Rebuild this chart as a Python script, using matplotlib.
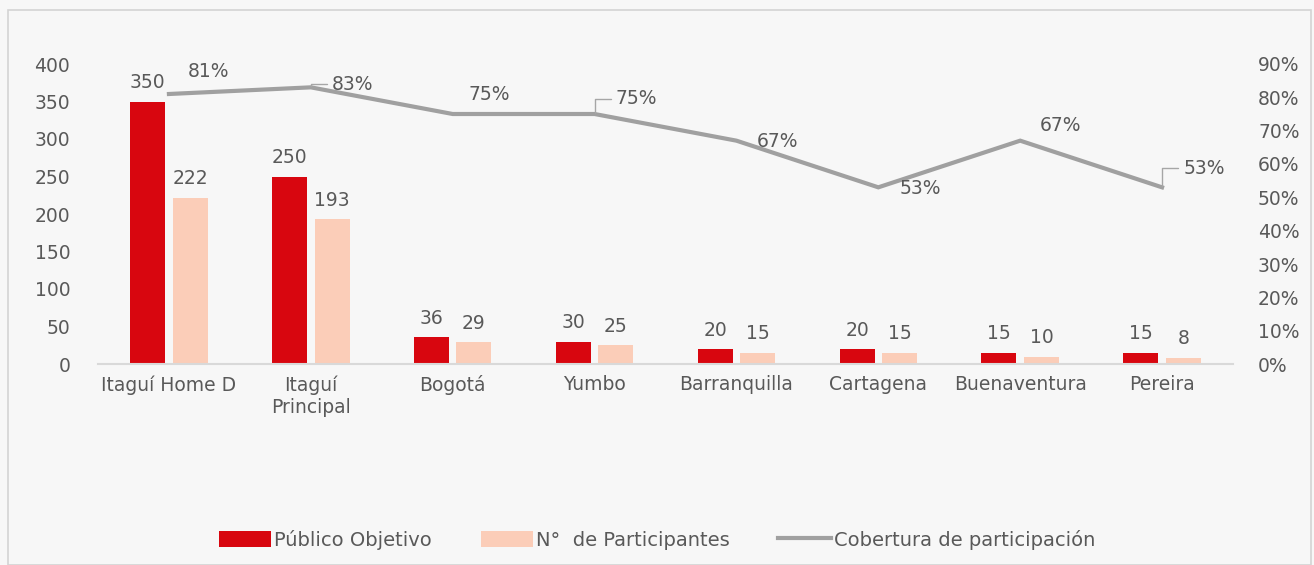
import numpy as np
import matplotlib.pyplot as plt
from matplotlib.patches import Rectangle
from matplotlib.ticker import PercentFormatter

sedes = ['Itaguí Home D', 'Itaguí\nPrincipal', 'Bogotá', 'Yumbo', 'Barranquilla',
         'Cartagena', 'Buenaventura', 'Pereira']
publico = [350, 250, 36, 30, 20, 20, 15, 15]
participantes = [222, 193, 29, 25, 15, 15, 10, 8]
cobertura = [0.81, 0.83, 0.75, 0.75, 0.67, 0.53, 0.67, 0.53]

# label offsets for the percentages (pixels), and whether a leader line is drawn
pct_offsets = [(40, 22), (42, 3), (37, 19), (42, 15), (41, -1), (42, -1), (40, 15), (42, 19)]
pct_leader = [False, True, False, True, False, False, False, True]

red = '#d8060f'
peach = '#fbcdb8'
gray_line = '#a0a0a0'
txt = '#595959'
fs = 13.5

plt.rcParams['font.family'] = ['DejaVu Sans']
fig = plt.figure(figsize=(13.14, 5.65), dpi=100, facecolor='#f7f7f7')
fig.patches.append(Rectangle((8 / 1314, 0), 1303 / 1314, 555 / 565, transform=fig.transFigure,
                             fill=False, edgecolor='#d4d4d4', lw=1.2))

ax = fig.add_axes([98 / 1314, 201 / 565, 1135 / 1314, 300 / 565])
ax.set_facecolor('none')
x = np.arange(len(sedes))
w = 0.247
ax.bar(x - 0.15, publico, w, color=red, label='Público Objetivo', zorder=2)
ax.bar(x + 0.15, participantes, w, color=peach, label='N°  de Participantes', zorder=2)

for xi, v in zip(x - 0.15, publico):
    ax.annotate(str(v), (xi, v), xytext=(0, 19), textcoords='offset pixels',
                ha='center', va='center', fontsize=fs, color=txt)
for xi, v in zip(x + 0.15, participantes):
    ax.annotate(str(v), (xi, v), xytext=(0, 19), textcoords='offset pixels',
                ha='center', va='center', fontsize=fs, color=txt)

ax.set_xlim(-0.5, len(sedes) - 0.5)
ax.set_ylim(0, 400)
ax.set_yticks(range(0, 401, 50))
ax.set_xticks(x)
ax.set_xticklabels(sedes, fontsize=fs, color=txt, linespacing=1.25)
ax.tick_params(axis='both', length=0, labelsize=fs, labelcolor=txt)
ax.tick_params(axis='y', pad=20)
ax.tick_params(axis='x', pad=8)
for s in ['top', 'right', 'left']:
    ax.spines[s].set_visible(False)
ax.spines['bottom'].set_color('#d9d9d9')
ax.spines['bottom'].set_linewidth(1.5)

ax2 = ax.twinx()
ax2.plot(x, cobertura, color=gray_line, lw=3, label='Cobertura de participación',
         solid_joinstyle='miter', zorder=3)
ax2.set_ylim(0, 0.9)
ax2.set_yticks(np.arange(0, 0.91, 0.1))
ax2.yaxis.set_major_formatter(PercentFormatter(1.0, decimals=0))
ax2.tick_params(axis='y', length=0, labelsize=fs, labelcolor=txt, pad=18)
for s in ax2.spines.values():
    s.set_visible(False)

for xi, v, off, lead in zip(x, cobertura, pct_offsets, pct_leader):
    ax2.annotate(f'{round(v * 100):d}%', (xi, v), xytext=off, textcoords='offset pixels',
                 ha='center', va='center', fontsize=fs, color=txt)
    if lead:
        ax2.annotate('', (xi, v), xytext=(off[0] - 26, off[1]), textcoords='offset pixels',
                     arrowprops=dict(arrowstyle='-', color='#a6a6a6', lw=1,
                                     shrinkA=0, shrinkB=1,
                                     connectionstyle='angle,angleA=0,angleB=90,rad=0'))

h1, l1 = ax.get_legend_handles_labels()
h2, l2 = ax2.get_legend_handles_labels()
fig.legend(h1 + h2, l1 + l2, loc='center', bbox_to_anchor=(0.5, 0.045), ncol=3,
           frameon=False, fontsize=14, labelcolor=txt, handlelength=2.7,
           handleheight=0.9, columnspacing=2.5, handletextpad=0.15)

fig.savefig('out.png', dpi=100, facecolor=fig.get_facecolor())
